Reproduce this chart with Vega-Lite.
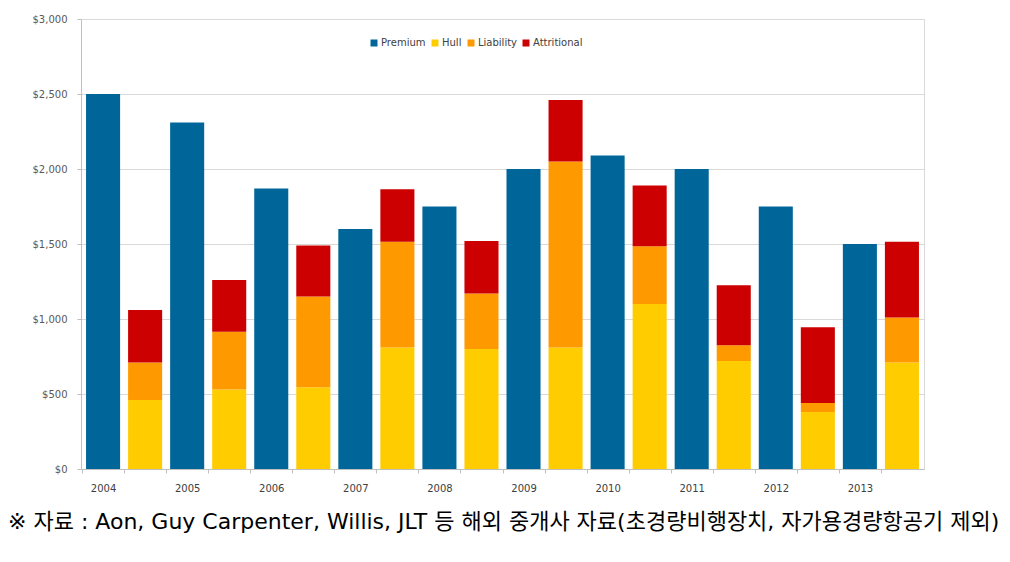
{
  "$schema": "https://vega.github.io/schema/vega-lite/v6.json",
  "width": 843,
  "height": 450,
  "autosize": {"type": "none"},
  "padding": {"left": 81, "top": 19, "right": 86, "bottom": 93},
  "background": "white",
  "view": {"stroke": "#d9d9d9", "strokeWidth": 1},
  "title": {
    "text": "※ 자료 : Aon, Guy Carpenter, Willis, JLT 등 해외 중개사 자료(초경량비행장치, 자가용경량항공기 제외)",
    "orient": "bottom",
    "anchor": "start",
    "frame": "group",
    "dx": -73,
    "offset": 19,
    "font": "DejaVu Sans, Noto Sans CJK KR",
    "fontSize": 22,
    "fontWeight": "normal",
    "color": "#000000"
  },
  "data": {
    "values": [
      {"year": "2004", "slot": "2004-1", "type": "Premium", "ord": 0, "value": 2500},
      {"year": "2004", "slot": "2004-2", "type": "Hull", "ord": 1, "value": 460},
      {"year": "2004", "slot": "2004-2", "type": "Liability", "ord": 2, "value": 250},
      {"year": "2004", "slot": "2004-2", "type": "Attritional", "ord": 3, "value": 350},
      {"year": "2005", "slot": "2005-1", "type": "Premium", "ord": 0, "value": 2310},
      {"year": "2005", "slot": "2005-2", "type": "Hull", "ord": 1, "value": 530},
      {"year": "2005", "slot": "2005-2", "type": "Liability", "ord": 2, "value": 385},
      {"year": "2005", "slot": "2005-2", "type": "Attritional", "ord": 3, "value": 345},
      {"year": "2006", "slot": "2006-1", "type": "Premium", "ord": 0, "value": 1870},
      {"year": "2006", "slot": "2006-2", "type": "Hull", "ord": 1, "value": 545},
      {"year": "2006", "slot": "2006-2", "type": "Liability", "ord": 2, "value": 605},
      {"year": "2006", "slot": "2006-2", "type": "Attritional", "ord": 3, "value": 340},
      {"year": "2007", "slot": "2007-1", "type": "Premium", "ord": 0, "value": 1600},
      {"year": "2007", "slot": "2007-2", "type": "Hull", "ord": 1, "value": 810},
      {"year": "2007", "slot": "2007-2", "type": "Liability", "ord": 2, "value": 705},
      {"year": "2007", "slot": "2007-2", "type": "Attritional", "ord": 3, "value": 350},
      {"year": "2008", "slot": "2008-1", "type": "Premium", "ord": 0, "value": 1750},
      {"year": "2008", "slot": "2008-2", "type": "Hull", "ord": 1, "value": 800},
      {"year": "2008", "slot": "2008-2", "type": "Liability", "ord": 2, "value": 370},
      {"year": "2008", "slot": "2008-2", "type": "Attritional", "ord": 3, "value": 350},
      {"year": "2009", "slot": "2009-1", "type": "Premium", "ord": 0, "value": 2000},
      {"year": "2009", "slot": "2009-2", "type": "Hull", "ord": 1, "value": 810},
      {"year": "2009", "slot": "2009-2", "type": "Liability", "ord": 2, "value": 1240},
      {"year": "2009", "slot": "2009-2", "type": "Attritional", "ord": 3, "value": 410},
      {"year": "2010", "slot": "2010-1", "type": "Premium", "ord": 0, "value": 2090},
      {"year": "2010", "slot": "2010-2", "type": "Hull", "ord": 1, "value": 1100},
      {"year": "2010", "slot": "2010-2", "type": "Liability", "ord": 2, "value": 385},
      {"year": "2010", "slot": "2010-2", "type": "Attritional", "ord": 3, "value": 405},
      {"year": "2011", "slot": "2011-1", "type": "Premium", "ord": 0, "value": 2000},
      {"year": "2011", "slot": "2011-2", "type": "Hull", "ord": 1, "value": 720},
      {"year": "2011", "slot": "2011-2", "type": "Liability", "ord": 2, "value": 105},
      {"year": "2011", "slot": "2011-2", "type": "Attritional", "ord": 3, "value": 400},
      {"year": "2012", "slot": "2012-1", "type": "Premium", "ord": 0, "value": 1750},
      {"year": "2012", "slot": "2012-2", "type": "Hull", "ord": 1, "value": 380},
      {"year": "2012", "slot": "2012-2", "type": "Liability", "ord": 2, "value": 60},
      {"year": "2012", "slot": "2012-2", "type": "Attritional", "ord": 3, "value": 505},
      {"year": "2013", "slot": "2013-1", "type": "Premium", "ord": 0, "value": 1500},
      {"year": "2013", "slot": "2013-2", "type": "Hull", "ord": 1, "value": 710},
      {"year": "2013", "slot": "2013-2", "type": "Liability", "ord": 2, "value": 300},
      {"year": "2013", "slot": "2013-2", "type": "Attritional", "ord": 3, "value": 505}
    ]
  },
  "mark": {"type": "bar"},
  "encoding": {
    "x": {
      "field": "slot",
      "type": "nominal",
      "scale": {"paddingInner": 0.19, "paddingOuter": 0.12},
      "axis": {
        "title": null,
        "labelAngle": 0,
        "labelExpr": "slice(datum.label, -1) == '1' ? slice(datum.label, 0, 4) : ''",
        "tickOffset": -21,
        "labelOffset": 21,
        "tickSize": 4,
        "tickColor": "#bfbfbf",
        "domainColor": "#bfbfbf",
        "labelFont": "DejaVu Sans",
        "labelFontSize": 10,
        "labelColor": "#404040",
        "labelPadding": 10,
        "grid": false
      }
    },
    "y": {
      "field": "value",
      "type": "quantitative",
      "stack": "zero",
      "scale": {"domain": [0, 3000], "nice": false},
      "axis": {
        "title": null,
        "values": [0, 500, 1000, 1500, 2000, 2500, 3000],
        "format": "$,.0f",
        "tickSize": 4,
        "tickColor": "#bfbfbf",
        "domainColor": "#bfbfbf",
        "gridColor": "#d9d9d9",
        "labelFont": "DejaVu Sans",
        "labelFontSize": 10,
        "labelColor": "#595959",
        "labelPadding": 10
      }
    },
    "color": {
      "field": "type",
      "type": "nominal",
      "scale": {
        "domain": ["Premium", "Hull", "Liability", "Attritional"],
        "range": ["#006699", "#ffcc00", "#ff9900", "#cc0000"]
      },
      "legend": {
        "title": null,
        "orient": "none",
        "legendX": 288,
        "legendY": 19,
        "direction": "horizontal",
        "symbolType": "square",
        "symbolSize": 49,
        "symbolStrokeWidth": 0,
        "labelFont": "DejaVu Sans",
        "labelFontSize": 10,
        "labelColor": "#404040",
        "columnPadding": 4,
        "labelOffset": 2
      }
    },
    "order": {"field": "ord", "type": "quantitative"}
  }
}
